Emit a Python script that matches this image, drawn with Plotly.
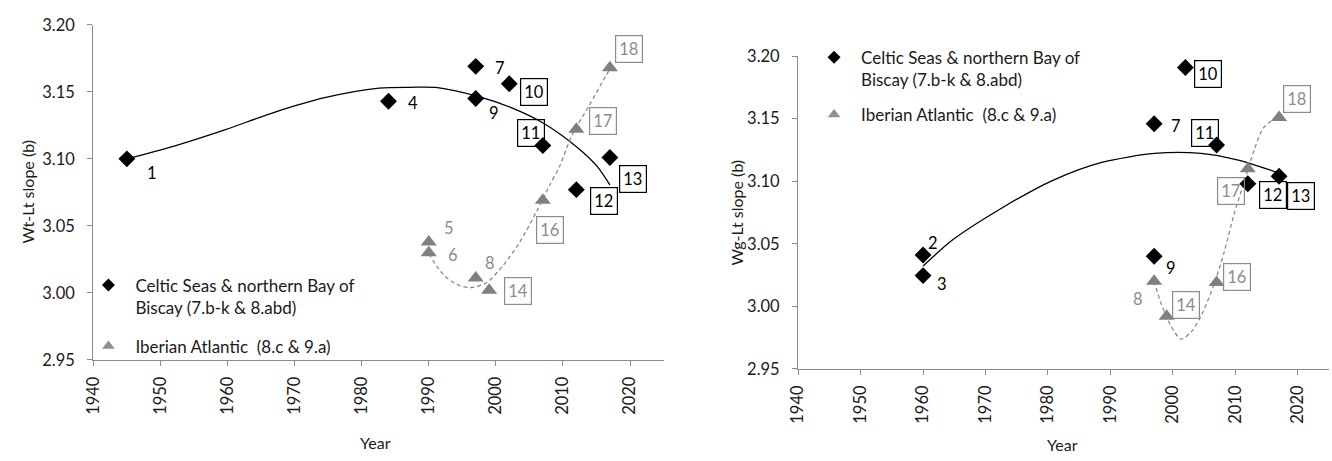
import plotly.graph_objects as go

W, H = 1332, 461

# ---------------- data ----------------
celtic_left_years = [1945, 1984, 1997, 1997, 2002, 2007, 2012, 2017]
celtic_left_b = [3.100, 3.143, 3.169, 3.145, 3.156, 3.110, 3.077, 3.101]
celtic_left_ids = ["1", "4", "7", "9", "10", "11", "12", "13"]

iberian_left_years = [1990, 1990, 1997, 1999, 2007, 2012, 2017]
iberian_left_b = [3.038, 3.030, 3.011, 3.002, 3.069, 3.122, 3.168]
iberian_left_ids = ["5", "6", "8", "14", "16", "17", "18"]

celtic_right_years = [1960, 1960, 1997, 1997, 2002, 2007, 2012, 2017]
celtic_right_b = [3.041, 3.0245, 3.146, 3.040, 3.191, 3.129, 3.098, 3.104]
celtic_right_ids = ["2", "3", "7", "9", "10", "11", "12", "13"]

iberian_right_years = [1997, 1999, 2007, 2012, 2017]
iberian_right_b = [3.020, 2.992, 3.019, 3.110, 3.151]
iberian_right_ids = ["8", "14", "16", "17", "18"]

# trend lines
trend_celtic_left_x = [1945, 1952.3, 1959.7, 1967.1, 1974.5, 1982.6, 1987.3, 1991.3,
                       1997.2, 2002.2, 2007.1, 2012.1, 2015.1, 2017]
trend_celtic_left_y = [3.100, 3.1099, 3.1218, 3.1349, 3.1456, 3.1527, 3.1534, 3.1532,
                       3.1468, 3.1384, 3.1266, 3.1087, 3.0944, 3.0806]

trend_iberian_left_x = [1990, 1992.2, 1994.2, 1996.1, 1998.6, 2001.1, 2003.5, 2006.0,
                        2008.0, 2009.5, 2011.4, 2013.9, 2016.4, 2017]
trend_iberian_left_y = [3.029, 3.0134, 3.0063, 3.0039, 3.0075, 3.0206, 3.0373, 3.0600,
                        3.0801, 3.0944, 3.1182, 3.1396, 3.1620, 3.1665]

trend_celtic_right_x = [1960, 1964.8, 1972.7, 1980.7, 1988.6, 1997.1, 2004.5, 2010.3, 2016.7, 2017]
trend_celtic_right_y = [3.0321, 3.0533, 3.0788, 3.1005, 3.1150, 3.1222, 3.1222, 3.1170, 3.1069, 3.1060]

trend_iberian_right_x = [1997, 1998.1, 1999.7, 2001.3, 2002.9, 2004.5, 2006.6, 2008.2,
                         2009.8, 2011.4, 2013.0, 2014.5, 2016.7, 2017]
trend_iberian_right_y = [3.020, 3.0023, 2.9842, 2.9737, 2.9793, 2.9921, 3.0176, 3.0431,
                         3.0737, 3.0992, 3.1247, 3.1426, 3.1515, 3.1520]

x_ticks = [1940, 1950, 1960, 1970, 1980, 1990, 2000, 2010, 2020]
y_ticks = [2.95, 3.00, 3.05, 3.10, 3.15, 3.20]

legend_celtic = "Celtic Seas & northern Bay of<br>Biscay (7.b-k & 8.abd)"
legend_iberian = "Iberian Atlantic \u00a0(8.c & 9.a)"

# ---------------- styles ----------------
FONT = "Lato"
BLACK = "#000000"
GREY = "#8a8a8a"
GREY_TXT = "#8c8c8c"
AXIS = "#8c8c8c"
TXT = "#1a1a1a"

# label offsets in pixels (dx, dy up-positive)
off_left = {
    "1": (25, -14), "4": (24, -2), "7": (24, -2), "9": (18, -14), "10": (25, -8),
    "11": (-12, 12), "12": (28, -11), "13": (23, -22),
    "5": (20, 14), "6": (24, -2), "8": (14, 15), "14": (29, -1), "16": (7, -30),
    "17": (27, 8), "18": (19, 19),
}
off_right = {
    "2": (10, 12), "3": (19, -8), "7": (22, -2), "9": (17, -12), "10": (23, -7),
    "11": (-12, 12), "12": (25, -11), "13": (22, -20),
    "8": (-16, -18), "14": (19, 11), "16": (20, 5), "17": (-17, -22), "18": (18, 18),
}

fig = go.Figure()

LINE_BLACK = dict(color=BLACK, width=1.3, shape="spline", smoothing=0.8)
LINE_GREY = dict(color=GREY, width=1.3, dash="4px,3px", shape="spline", smoothing=0.8)

# trend lines
fig.add_trace(go.Scatter(x=trend_celtic_left_x, y=trend_celtic_left_y, mode="lines",
                         line=LINE_BLACK, showlegend=False, hoverinfo="skip", xaxis="x", yaxis="y"))
fig.add_trace(go.Scatter(x=trend_iberian_left_x, y=trend_iberian_left_y, mode="lines",
                         line=LINE_GREY, showlegend=False, hoverinfo="skip", xaxis="x", yaxis="y"))
fig.add_trace(go.Scatter(x=trend_celtic_right_x, y=trend_celtic_right_y, mode="lines",
                         line=LINE_BLACK, showlegend=False, hoverinfo="skip", xaxis="x2", yaxis="y2"))
fig.add_trace(go.Scatter(x=trend_iberian_right_x, y=trend_iberian_right_y, mode="lines",
                         line=LINE_GREY, showlegend=False, hoverinfo="skip", xaxis="x2", yaxis="y2"))

# markers
DIAM = dict(symbol="diamond", size=13, color=BLACK, line=dict(width=0))
TRI = dict(symbol="triangle-up", size=14, color="#808080", line=dict(width=0))
DIAM_LEG = dict(symbol="diamond", size=10, color=BLACK, line=dict(width=0))
TRI_LEG = dict(symbol="triangle-up", size=11, color="#909090", line=dict(width=0))

fig.add_trace(go.Scatter(x=celtic_left_years, y=celtic_left_b, mode="markers", marker=DIAM,
                         showlegend=False, xaxis="x", yaxis="y"))
fig.add_trace(go.Scatter(x=iberian_left_years, y=iberian_left_b, mode="markers", marker=TRI,
                         showlegend=False, xaxis="x", yaxis="y"))
fig.add_trace(go.Scatter(x=celtic_right_years, y=celtic_right_b, mode="markers", marker=DIAM,
                         showlegend=False, xaxis="x2", yaxis="y2"))
fig.add_trace(go.Scatter(x=iberian_right_years, y=iberian_right_b, mode="markers", marker=TRI,
                         showlegend=False, xaxis="x2", yaxis="y2"))

# legend entries (smaller keys, as in the reference)
for leg, xa, ya in (("legend", "x", "y"), ("legend2", "x2", "y2")):
    fig.add_trace(go.Scatter(x=[None], y=[None], mode="markers", marker=DIAM_LEG,
                             name=legend_celtic, legend=leg, xaxis=xa, yaxis=ya,
                             legendgroup=leg + "a"))
    fig.add_trace(go.Scatter(x=[None], y=[None], mode="markers", marker=TRI_LEG,
                             name=legend_iberian, legend=leg, xaxis=xa, yaxis=ya,
                             legendgroup=leg + "b"))

annotations = []


def add_labels(years, vals, ids, offs, xref, yref, colour):
    for yr, v, lab in zip(years, vals, ids):
        dx, dy = offs[lab]
        boxed = int(lab) >= 10
        a = dict(x=yr, y=v, xref=xref, yref=yref, text=lab, showarrow=False,
                 xshift=dx, yshift=dy, font=dict(family=FONT, size=16.5, color=colour),
                 xanchor="center", yanchor="middle")
        if boxed:
            a.update(bordercolor=colour, borderwidth=1.2, borderpad=3)
        annotations.append(a)


add_labels(celtic_left_years, celtic_left_b, celtic_left_ids, off_left, "x", "y", BLACK)
add_labels(iberian_left_years, iberian_left_b, iberian_left_ids, off_left, "x", "y", GREY_TXT)
add_labels(celtic_right_years, celtic_right_b, celtic_right_ids, off_right, "x2", "y2", BLACK)
add_labels(iberian_right_years, iberian_right_b, iberian_right_ids, off_right, "x2", "y2", GREY_TXT)

# axis titles
TITLE_FONT = dict(family=FONT, size=16, color=TXT)
annotations += [
    dict(text="Wt-Lt slope (b)", xref="paper", yref="paper", x=17 / W, y=1 - 190 / H,
         textangle=-90, showarrow=False, xanchor="center", yanchor="middle", font=TITLE_FONT),
    dict(text="Wg-Lt slope (b)", xref="paper", yref="paper", x=731.7 / W, y=1 - 212 / H,
         textangle=-90, showarrow=False, xanchor="center", yanchor="middle", font=TITLE_FONT),
    dict(text="Year", xref="paper", yref="paper", x=368 / W, y=1 - 452 / H,
         showarrow=False, xanchor="center", yanchor="middle", font=TITLE_FONT),
    dict(text="Year", xref="paper", yref="paper", x=1060 / W, y=1 - 454 / H,
         showarrow=False, xanchor="center", yanchor="middle", font=TITLE_FONT),
]

TICK_FONT = dict(family=FONT, size=16.5, color=TXT)


def xaxis(dom, anchor):
    return dict(domain=dom, anchor=anchor, range=[1940, 2025], tickvals=x_ticks,
                tickangle=-90, showline=True, linecolor=AXIS, linewidth=1.3,
                ticks="outside", ticklen=5, tickcolor=AXIS, tickwidth=1.3,
                ticklabelstandoff=4,
                showgrid=False, zeroline=False, tickfont=TICK_FONT, fixedrange=True)


def yaxis(dom, anchor):
    return dict(domain=dom, anchor=anchor, range=[2.95, 3.20], tickvals=y_ticks,
                tickformat=".2f", showline=True, linecolor=AXIS, linewidth=1.3,
                ticks="outside", ticklen=5, tickcolor=AXIS, tickwidth=1.3,
                ticklabelstandoff=9,
                showgrid=False, zeroline=False, tickfont=TICK_FONT, fixedrange=True)


LEG_FONT = dict(family=FONT, size=17, color=TXT)

fig.update_layout(
    width=W, height=H, margin=dict(l=0, r=0, t=0, b=0),
    paper_bgcolor="white", plot_bgcolor="white",
    xaxis=xaxis([83 / W, 658 / W], "y"),
    yaxis=yaxis([1 - 365.7 / H, 1 - 15.5 / H], "x"),
    xaxis2=xaxis([793.7 / W, 1329 / W], "y2"),
    yaxis2=yaxis([1 - 375 / H, 1 - 48.3 / H], "x2"),
    legend=dict(x=(106 - 35) / W, y=1 - (285 - 16) / H, xanchor="left", yanchor="top",
                bgcolor="rgba(0,0,0,0)", font=LEG_FONT, itemwidth=44, valign="top",
                tracegroupgap=14, itemsizing="trace"),
    legend2=dict(x=(830.7 - 28) / W, y=1 - 31 / H, xanchor="left", yanchor="top",
                 bgcolor="rgba(0,0,0,0)", font=LEG_FONT, itemwidth=44, valign="top",
                 tracegroupgap=10, itemsizing="trace"),
    annotations=annotations,
    showlegend=True,
)

fig.write_html("out.html")
